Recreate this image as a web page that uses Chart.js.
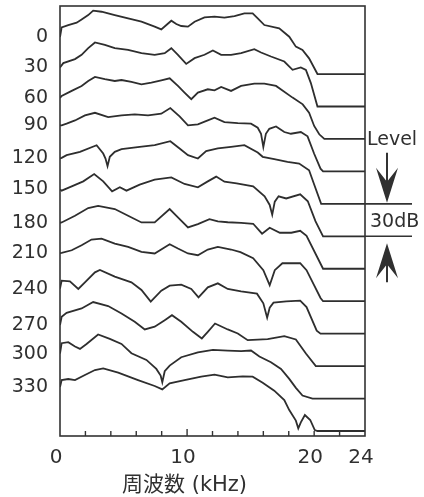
<!DOCTYPE html>
<html>
<head>
<meta charset="utf-8">
<script src="https://cdn.jsdelivr.net/npm/chart.js@4.4.0/dist/chart.umd.min.js"></script>
<style>
  html, body { margin: 0; padding: 0; background: #fff; }
  canvas { display: block; }
</style>
</head>
<body>
<canvas id="chart" width="424" height="497"></canvas>
<script>
// Frequency response vs. angle, curves stacked 30 dB apart
const angles = [0, 30, 60, 90, 120, 150, 180, 210, 240, 270, 300, 330];
const levelStep = 30; // dB between neighbouring curves
const freqTicks = [0, 10, 20, 24];
const levelBar = [120, 150]; // the "30dB" bar, dB below the first floor
const yMin = -334.6;
const yMax = 62.9;

// [kHz, dB above floor] for each angle
const resp0 = [[0,34.2],[0.13,43.1],[0.65,45.3],[1.31,47.5],[1.7,50.5],[2.22,54.5],[2.61,58.6],[3.27,57.6],[4.31,54.5],[5.36,51.5],[6.41,48.4],[7.45,43.8],[7.97,41.3],[8.37,45.3],[8.76,49.3],[9.15,46.2],[9.54,44.4],[10.07,43.8],[10.59,48.4],[11.37,52.4],[12.16,53],[12.94,52.1],[13.73,53.6],[14.51,56.1],[15.16,56.1],[15.56,51.5],[16.08,45.3],[17.25,42.2],[18.04,34.5],[18.56,25.3],[19.08,22.2],[19.6,14.5],[20.26,0],[24,0]];
const resp30 = [[0,36.1],[0.26,40.1],[1.18,43.8],[1.7,47.8],[2.22,53.9],[2.75,59.2],[3.53,57],[4.31,53.9],[5.36,52.4],[6.41,49.3],[7.45,47.8],[8.24,49.3],[8.76,53.9],[9.28,47.8],[9.93,39.4],[10.59,44.7],[11.37,47.8],[12.03,51.8],[12.68,47.8],[13.46,47.8],[14.25,49.3],[15.29,53],[15.82,49.9],[16.6,46.2],[17.65,41.6],[18.3,33.9],[18.95,36.1],[19.35,33.9],[19.74,21.6],[20.26,0],[24,0]];
const resp60 = [[0,37.9],[0.13,39.8],[0.92,44.4],[1.7,49],[2.22,53.6],[2.75,57.3],[3.53,55.2],[4.31,53.6],[4.84,54.5],[5.62,52.7],[6.41,50.5],[7.19,52.1],[7.97,54.2],[8.63,56.1],[9.28,49],[9.8,42.8],[10.33,36.7],[10.85,42.8],[11.63,45.9],[12.16,45],[12.68,48.1],[13.46,44.4],[14.25,49],[15.29,51.2],[16.08,51.2],[17,49],[18.3,38.2],[19.1,32],[19.6,24.3],[20,12],[20.4,4.3],[20.8,0],[24,0]];
const resp90 = [[0,42.5],[0.13,42.5],[0.52,44.1],[1.18,47.1],[1.96,51.8],[2.75,54.2],[3.79,50.2],[4.84,51.8],[5.88,52.7],[6.93,51.8],[7.97,53.3],[8.68,58.6],[9.41,50.8],[10.07,42.5],[10.85,43.5],[11.63,47.1],[12.16,49.6],[12.94,45.6],[13.99,44.7],[15.03,44.1],[15.56,40.4],[15.82,34.8],[16,22.5],[16.2,34.8],[16.47,39.4],[17,41.6],[17.65,36.4],[18.17,34.8],[18.95,36.4],[19.48,32.4],[20,16.3],[20.5,2.5],[20.7,0],[24,0]];
const resp120 = [[0,42],[0.13,42.5],[0.52,45],[1.57,48.1],[2.88,54.2],[3.4,46.5],[3.58,41.9],[3.74,34.8],[3.92,43.5],[4.31,48.1],[4.84,50.5],[6.27,52.7],[7.45,54.2],[8.68,57.9],[9.41,51.2],[10.07,45],[10.85,41.9],[11.5,48.7],[12.42,51.2],[13.46,52.7],[14.51,54.2],[15.56,47.5],[15.95,43.5],[16.86,41.3],[17.9,38.8],[18.82,37.3],[19.6,31.1],[20,17.9],[20.55,0],[24,0]];
const resp150 = [[0,43.4],[0.13,42.2],[0.92,46.2],[1.83,50.8],[2.69,57.6],[3.4,50.8],[4.1,41.6],[4.71,45.3],[5.23,42.2],[6.27,47.8],[7.45,52.4],[8.76,54.5],[9.8,48.4],[10.85,45.3],[11.63,50.8],[12.29,55.2],[12.94,50.5],[13.9,49],[15.2,46.2],[16.1,37],[16.5,29],[16.7,20],[16.9,32],[17.2,37],[17.8,35],[18.9,38.8],[19.5,32.4],[20.1,14],[20.7,0],[24,0]];
const resp180 = [[0,42.5],[0.13,42.8],[1.18,49],[2.22,56.1],[3,58.2],[4.31,55.2],[5.36,49],[6.41,42.8],[7.45,42.8],[8.63,55.2],[9.28,47.5],[10.07,38.2],[10.85,41.3],[11.76,45.9],[12.42,43.8],[13.2,43],[14.25,42.5],[15.2,41.6],[15.9,32.4],[16.5,37.9],[17.3,33.3],[18.2,33.3],[18.9,35.1],[19.4,30.5],[20.7,0],[24,0]];
const resp210 = [[0,44.4],[0.13,44.7],[0.92,47.1],[1.7,51.8],[2.48,57],[3.27,57.9],[4.31,53.3],[5.36,50.2],[6.41,45.6],[7.45,44.1],[8.63,52.7],[9.28,48.7],[10.07,44.1],[10.85,42.5],[11.63,47.8],[12.42,50.2],[13.46,47.8],[14.2,45.3],[15.2,39.8],[16,28.7],[16.5,14.8],[16.9,28.7],[17.5,35.1],[18.9,35.1],[19.4,28.7],[20.5,3],[20.7,0],[24,0]];
const resp240 = [[0,41.6],[0.13,49],[0.78,48.4],[1.44,41.3],[1.96,47.5],[2.75,56.7],[3.14,58.9],[4.31,52.7],[5.62,47.5],[6.41,40.4],[7.14,29.6],[7.97,39.8],[8.63,44.4],[9.54,45.3],[10.33,41.3],[10.9,33.6],[11.63,42.8],[12.42,46.5],[13.2,41.3],[14.25,39.1],[15.5,37],[16,28],[16.3,14.8],[16.5,24],[16.8,28.7],[17.8,29.9],[18.9,30.5],[19.4,24.6],[20.2,2.8],[20.5,0],[24,0]];
const resp270 = [[0,37.9],[0.13,45.6],[0.52,49.3],[1.7,53.3],[2.61,59.2],[3.79,55.5],[4.84,48.7],[5.88,41],[6.67,33.9],[7.45,36.4],[8.24,42.5],[8.81,47.1],[9.54,41],[10.46,31.7],[11.16,25.6],[11.63,31.7],[12.2,39.4],[13.2,33.9],[13.99,30.2],[14.77,24],[15.56,24.5],[16.34,25],[17.65,27.7],[18.56,24.6],[19.35,11.7],[20.13,0],[24,0]];
const resp300 = [[0,41.6],[0.13,51.2],[0.65,52.1],[1.18,48.1],[1.57,45.9],[2.09,50.5],[3,59.2],[3.92,55.2],[4.84,50.5],[5.62,41.9],[6.8,35.7],[7.58,27.4],[7.92,21.3],[8.05,15.1],[8.24,25.3],[8.63,30.5],[9.54,38.2],[10.85,42.8],[12.03,45],[13.2,44.4],[14.25,43.8],[15.03,44.4],[15.69,38.8],[16.6,33.6],[17.39,27.4],[18.04,18.2],[18.56,9.9],[19.08,2.8],[19.87,0],[24,0]];
const resp330 = [[0,40.7],[0.13,47.1],[0.65,48.1],[1.18,47.1],[1.96,51.8],[2.75,56.4],[3.4,57.9],[4.58,53.9],[6.14,47.1],[7.45,41.6],[8.05,38.5],[8.63,44.1],[9.8,47.1],[11.11,50.2],[12.16,52.1],[13.2,49.6],[14.38,50.5],[15.16,50.2],[15.95,44.7],[16.86,37.3],[17.65,28.7],[18.04,19.4],[18.56,9.6],[18.75,2.5],[18.95,8],[19.27,14.8],[19.69,10.2],[20.05,0.9],[20.26,0],[24,0]];

const curves = [resp0, resp30, resp60, resp90, resp120, resp150, resp180, resp210, resp240, resp270, resp300, resp330];

const ink = "#303030";
const font = "'DejaVu Sans', 'Noto Sans CJK JP', sans-serif";

const datasets = curves.map((c, k) => ({
  label: angles[k] + "°",
  data: c.map(([f, db]) => ({ x: f, y: db - levelStep * k })),
  borderColor: "#2e2e2e",
  borderWidth: 1.8,
  pointRadius: 0,
  tension: 0,
  fill: false,
}));

// frame, inward ticks, axis title and the level bar on the right
const framePlugin = {
  id: "frame",
  beforeDraw(chart) {
    const ctx = chart.ctx;
    ctx.save();
    ctx.fillStyle = "#ffffff";
    ctx.fillRect(0, 0, chart.width, chart.height);
    ctx.restore();
  },
  afterDraw(chart) {
    const { ctx, chartArea: a } = chart;
    const xs = chart.scales.x;
    const ys = chart.scales.y;
    ctx.save();
    ctx.strokeStyle = "#333333";
    ctx.lineWidth = 1.6;
    ctx.strokeRect(a.left, a.top, a.right - a.left, a.bottom - a.top);

    // tick marks pointing up into the plot
    ctx.lineWidth = 1.4;
    xs.ticks.forEach((t) => {
      if (t.value <= 0 || t.value >= 24) return;
      const px = xs.getPixelForValue(t.value);
      const len = t.value === 10 ? 7 : 5;
      ctx.beginPath();
      ctx.moveTo(px, a.bottom);
      ctx.lineTo(px, a.bottom - len);
      ctx.stroke();
    });

    // x axis title
    ctx.fillStyle = ink;
    ctx.font = "21px " + font;
    ctx.textAlign = "center";
    ctx.textBaseline = "middle";
    ctx.fillText("周波数 (kHz)", xs.getPixelForValue(9.8), a.bottom + 50);

    // 30 dB level bar
    const yTop = ys.getPixelForValue(-levelBar[0]);
    const yBot = ys.getPixelForValue(-levelBar[1]);
    const ax = a.right + 22;
    ctx.lineWidth = 1.6;
    ctx.beginPath();
    ctx.moveTo(a.right, yTop);
    ctx.lineTo(a.right + 47, yTop);
    ctx.moveTo(a.right, yBot);
    ctx.lineTo(a.right + 47, yBot);
    ctx.stroke();

    ctx.font = "19px " + font;
    ctx.textAlign = "left";
    ctx.fillText("Level", a.right + 2, yTop - 64);
    ctx.fillText(levelBar[1] - levelBar[0] + "dB", a.right + 5, (yTop + yBot) / 2 + 2);

    // down arrow
    ctx.lineWidth = 2;
    ctx.beginPath();
    ctx.moveTo(ax, yTop - 51);
    ctx.lineTo(ax, yTop - 8);
    ctx.stroke();
    ctx.beginPath();
    ctx.moveTo(ax, yTop - 1);
    ctx.lineTo(ax - 11, yTop - 36);
    ctx.lineTo(ax, yTop - 22);
    ctx.lineTo(ax + 11, yTop - 36);
    ctx.closePath();
    ctx.fill();

    // up arrow
    ctx.beginPath();
    ctx.moveTo(ax, yBot + 14);
    ctx.lineTo(ax, yBot + 46);
    ctx.stroke();
    ctx.beginPath();
    ctx.moveTo(ax, yBot + 7);
    ctx.lineTo(ax - 11, yBot + 42);
    ctx.lineTo(ax, yBot + 28);
    ctx.lineTo(ax + 11, yBot + 42);
    ctx.closePath();
    ctx.fill();
    ctx.restore();
  },
};

const ctx = document.getElementById("chart").getContext("2d");
new Chart(ctx, {
  type: "line",
  data: { datasets },
  options: {
    responsive: false,
    animation: false,
    devicePixelRatio: 1,
    layout: { padding: { left: 0, top: 6, right: 59, bottom: 0 } },
    plugins: {
      legend: { display: false },
      tooltip: { enabled: false },
    },
    scales: {
      x: {
        type: "linear",
        min: 0,
        max: 24,
        grid: { display: false, drawTicks: false },
        border: { display: false },
        ticks: {
          stepSize: 2,
          autoSkip: false,
          maxRotation: 0,
          padding: 10,
          labelOffset: -4,
          color: ink,
          font: { family: font, size: 20 },
          callback: (v) => (freqTicks.includes(v) ? String(v) : ""),
        },
        afterFit: (s) => {
          s.height = 61;
          s.paddingLeft = 0;
          s.paddingRight = 0;
        },
      },
      y: {
        type: "linear",
        min: yMin,
        max: yMax,
        grid: { display: false, drawTicks: false },
        border: { display: false },
        ticks: {
          autoSkip: false,
          padding: 12,
          color: ink,
          font: { family: font, size: 19 },
          callback: (v, i, ticks) => String(angles[ticks.length - 1 - i]),
        },
        afterBuildTicks: (s) => {
          s.ticks = curves
            .map((c, k) => ({ value: c[0][1] - levelStep * k }))
            .reverse();
        },
        afterFit: (s) => {
          s.width = 60;
          s.paddingTop = 0;
          s.paddingBottom = 0;
        },
      },
    },
  },
  plugins: [framePlugin],
});
</script>
</body>
</html>
